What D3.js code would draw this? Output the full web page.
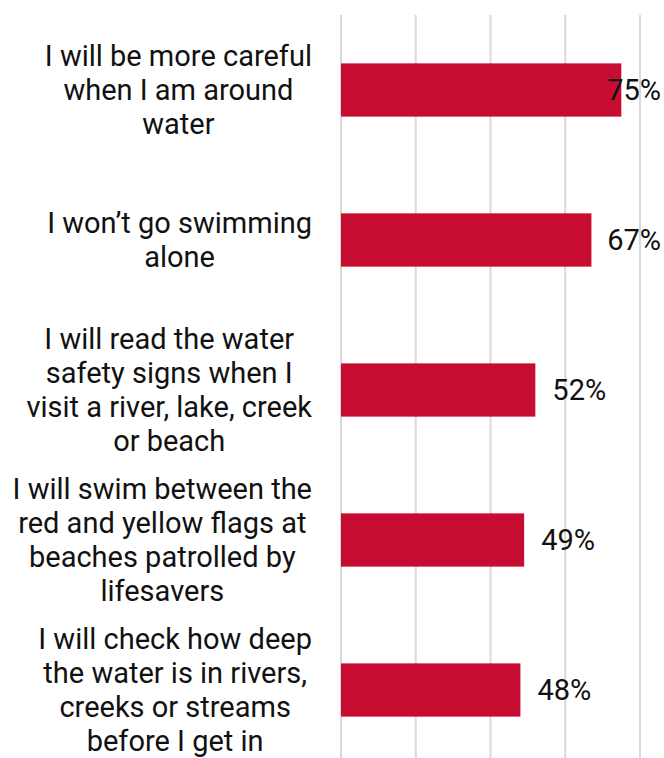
<!DOCTYPE html>
<html>
<head>
<meta charset="utf-8">
<script src="https://cdn.jsdelivr.net/npm/d3@7"></script>
<style>
  html, body { margin: 0; padding: 0; background: #fff; }
  svg { display: block; font-family: Roboto, "Noto Sans", sans-serif; }
</style>
</head>
<body>
<svg id="chart" width="664" height="758"></svg>
<script>
// Survey responses: share of respondents committing to each behaviour
const categories = [
  ["I will be more careful", "when I am around", "water"],
  ["I won\u2019t go swimming", "alone"],
  ["I will read the water", "safety signs when I", "visit a river, lake, creek", "or beach"],
  ["I will swim between the", "red and yellow flags at", "beaches patrolled by", "lifesavers"],
  ["I will check how deep", "the water is in rivers,", "creeks or streams", "before I get in"]
];
const values = [75, 67, 52, 49, 48];
const gridTicks = [0, 20, 40, 60, 80];

const svg = d3.select("#chart");
const plot = { left: 341, right: 640, top: 15, bottom: 765 };

const x = d3.scaleLinear().domain([0, 80]).range([plot.left, plot.right]);
const y = d3.scaleBand().domain(d3.range(categories.length)).range([plot.top, plot.bottom]).padding(0);
const barH = y.bandwidth() * 0.355;

// vertical gridlines
svg.append("g")
  .selectAll("line")
  .data(gridTicks)
  .join("line")
  .attr("x1", d => x(d)).attr("x2", d => x(d))
  .attr("y1", plot.top).attr("y2", 758)
  .attr("stroke", "#d9d9d9")
  .attr("stroke-width", 2);

// bars
svg.append("g")
  .selectAll("rect")
  .data(values)
  .join("rect")
  .attr("x", x(0))
  .attr("y", (d, i) => y(i) + y.bandwidth() / 2 - barH / 2)
  .attr("width", d => x(d) - x(0))
  .attr("height", barH)
  .attr("fill", "#c60c30");

// value labels, kept inside the chart's right edge
const fontSize = 29;
const lineH = 34;
const valueG = svg.append("g");
values.forEach((v, i) => {
  const t = valueG.append("text")
    .attr("y", y(i) + y.bandwidth() / 2)
    .attr("dy", "0.35em")
    .attr("font-size", fontSize)
    .attr("fill", "#111")
    .text(v + "%");
  const w = t.node().getComputedTextLength();
  const xPos = Math.min(x(v) + 17, 661 - w);
  t.attr("x", xPos);
});

// category labels: each block right-aligned, lines centred within the block
const labelRight = 312;
const catG = svg.append("g");
categories.forEach((lines, i) => {
  const g = catG.append("g");
  const cy = y(i) + y.bandwidth() / 2;
  const texts = lines.map((ln, k) =>
    g.append("text")
      .attr("font-size", fontSize)
      .attr("fill", "#111")
      .attr("text-anchor", "middle")
      .attr("y", cy + (k - (lines.length - 1) / 2) * lineH)
      .attr("dy", "0.35em")
      .text(ln)
  );
  const maxW = d3.max(texts, t => t.node().getComputedTextLength());
  texts.forEach(t => t.attr("x", labelRight - maxW / 2));
});
</script>
</body>
</html>
